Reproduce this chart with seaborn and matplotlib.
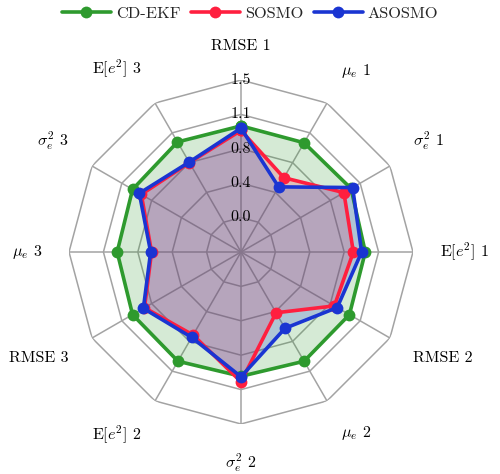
import numpy as np
import matplotlib
matplotlib.use("Agg")
import matplotlib.pyplot as plt
import seaborn as sns
import pandas as pd

categories = ["RMSE 1", r"$\mu_e$ 1", r"$\sigma_e^2$ 1", r"E$[e^2]$ 1",
              "RMSE 2", r"$\mu_e$ 2", r"$\sigma_e^2$ 2", r"E$[e^2]$ 2",
              "RMSE 3", r"$\mu_e$ 3", r"$\sigma_e^2$ 3", r"E$[e^2]$ 3"]
cdekf = [1.00, 1.00, 1.01, 0.98, 0.99, 1.00, 0.98, 1.00, 0.99, 0.975, 0.99, 1.01]
sosmo = [0.95, 0.56, 0.92, 0.85, 0.80, 0.39, 1.04, 0.67, 0.84, 0.60, 0.88, 0.75]
asosmo = [0.975, 0.445, 1.03, 0.94, 0.836, 0.585, 0.985, 0.70, 0.854, 0.61, 0.905, 0.756]
series_names = ["CD-EKF", "SOSMO", "ASOSMO"]
series_colors = ["#2e9a2e", "#ff1f3f", "#1a35d2"]
r_ticks = [0.0, 0.375, 0.75, 1.125, 1.5]
r_min, r_max = -0.375, 1.5

sns.set_theme(style="white")
plt.rcParams["font.family"] = ["cmr10", "DejaVu Serif"]
plt.rcParams["mathtext.fontset"] = "cm"
plt.rcParams["axes.formatter.use_mathtext"] = True

fig = plt.figure(figsize=(5.0, 4.74), dpi=100)
ax = fig.add_axes([0.138, 0.1055, 0.688, 0.7257], projection="polar")
ax.set_theta_offset(np.pi / 2)
ax.set_theta_direction(-1)
ax.set_ylim(r_min, r_max)
ax.grid(False)
ax.set_xticks([])
ax.set_yticks([])
ax.spines["polar"].set_visible(False)
ax.set_facecolor("white")

n = len(categories)
theta = np.linspace(0, 2 * np.pi, n, endpoint=False)
theta_c = np.append(theta, 2 * np.pi)

grid_col = "#a3a3a3"
for lvl in r_ticks:
    ax.plot(theta_c, [lvl] * (n + 1), color=grid_col, lw=1.1, zorder=0)
for t in theta:
    ax.plot([t, t], [r_min, r_max], color=grid_col, lw=1.1, zorder=0)

rows = []
for name, vals in zip(series_names, [cdekf, sosmo, asosmo]):
    closed = list(vals) + [vals[0]]
    for i, (t, v) in enumerate(zip(theta_c, closed)):
        rows.append({"series": name, "theta": t, "value": v, "order": i})
df = pd.DataFrame(rows)

for k, (name, col) in enumerate(zip(series_names, series_colors)):
    sub = df[df["series"] == name]
    ax.fill(sub["theta"].values, sub["value"].values, color=col, alpha=0.2,
            lw=0, zorder=1 + k)
for k, (name, col) in enumerate(zip(series_names, series_colors)):
    sub = df[df["series"] == name]
    sns.lineplot(x=sub["theta"].values, y=sub["value"].values, ax=ax, sort=False,
                 color=col, lw=2.6, marker="o", markersize=8.5,
                 markeredgecolor=col, markeredgewidth=0, label=name,
                 zorder=5 + k)

# radial tick labels
for v in r_ticks:
    ax.text(0, v, f"{v:.1f}", ha="center", va="center", fontsize=11.5,
            color="black", zorder=4)

# category labels
r_lab = r_max + 0.295
for t, lab in zip(theta, categories):
    dx, dy = np.sin(t), np.cos(t)
    ha = "center" if abs(dx) < 0.1 else ("left" if dx > 0 else "right")
    va = "center" if abs(dy) < 0.1 else ("bottom" if dy > 0 else "top")
    ax.text(t, r_lab, lab, ha=ha, va=va, fontsize=11.5, color="black",
            clip_on=False)

handles, labels = ax.get_legend_handles_labels()
leg = ax.get_legend()
if leg is not None:
    leg.remove()
fig.legend(handles, labels, loc="upper center", bbox_to_anchor=(0.5, 1.017),
           ncol=3, frameon=False, fontsize=11.8, handlelength=3.0,
           handletextpad=0.3, columnspacing=0.65)

fig.savefig("out.png", dpi=100)
